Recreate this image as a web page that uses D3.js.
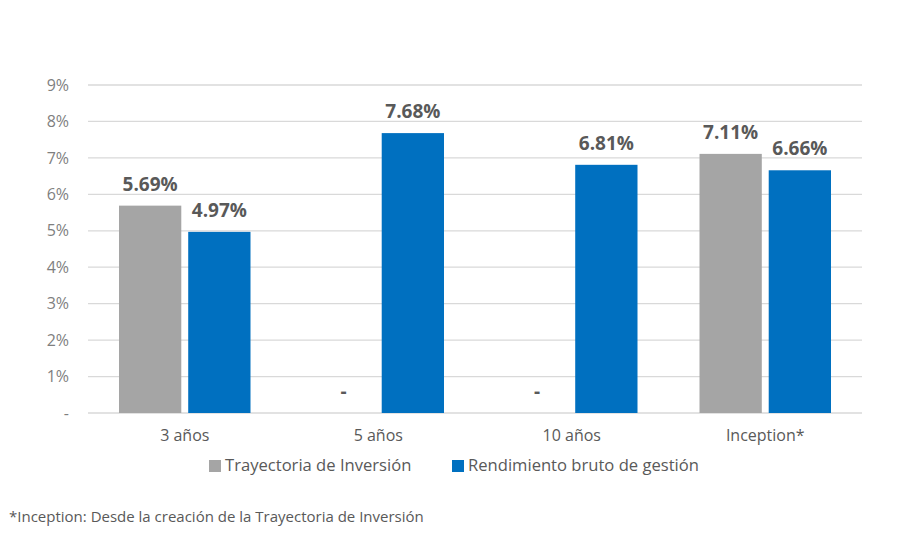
<!DOCTYPE html>
<html>
<head>
<meta charset="utf-8">
<script src="https://cdn.jsdelivr.net/npm/d3@7"></script>
<style>
  body { margin: 0; background: #fff; }
  text { font-family: "Open Sans", "Liberation Sans", sans-serif; }
</style>
</head>
<body>
<div id="chart"></div>
<script>
const categories = ["3 años", "5 años", "10 años", "Inception*"];
const seriesNames = ["Trayectoria de Inversión", "Rendimiento bruto de gestión"];
const trayectoria = [5.69, null, null, 7.11];
const rendimiento = [4.97, 7.68, 6.81, 6.66];
const yTicks = [0, 1, 2, 3, 4, 5, 6, 7, 8, 9];
const colors = ["#A5A5A5", "#0070C0"];
const footnote = "*Inception: Desde la creación de la Trayectoria de Inversión";

const width = 910;
const height = 533;
const margin = { top: 85, right: 48, bottom: 120, left: 88 };

const svg = d3.select("#chart")
  .append("svg")
  .attr("width", width)
  .attr("height", height);

const x = d3.scaleBand()
  .domain(categories)
  .range([margin.left, width - margin.right]);

const x1 = d3.scaleBand()
  .domain([0, 1])
  .range([31, x.bandwidth() - 31])
  .paddingInner(0.1);

const y = d3.scaleLinear()
  .domain([0, 9])
  .range([height - margin.bottom, margin.top]);

// gridlines
svg.append("g")
  .selectAll("line")
  .data(yTicks)
  .join("line")
  .attr("x1", margin.left)
  .attr("x2", width - margin.right)
  .attr("y1", d => y(d))
  .attr("y2", d => y(d))
  .attr("stroke", "#D9D9D9")
  .attr("stroke-width", 1.3);

// y axis labels
const yAxis = svg.append("g")
  .attr("transform", `translate(${margin.left},0)`)
  .call(d3.axisLeft(y).tickValues(yTicks).tickSize(0).tickPadding(19)
    .tickFormat(d => d === 0 ? "-" : d + "%"));
yAxis.select(".domain").remove();
yAxis.selectAll("text")
  .attr("fill", "#7F7F7F")
  .style("font-size", "16px");

// x axis labels
const xAxis = svg.append("g")
  .attr("transform", `translate(0,${y(0)})`)
  .call(d3.axisBottom(x).tickSize(0).tickPadding(17));
xAxis.select(".domain").remove();
xAxis.selectAll("text")
  .attr("fill", "#595959")
  .style("font-size", "16px");

const rows = categories.map((c, i) => ({
  cat: c,
  vals: [trayectoria[i], rendimiento[i]]
}));

const groups = svg.append("g")
  .selectAll("g")
  .data(rows)
  .join("g")
  .attr("transform", d => `translate(${x(d.cat)},0)`);

groups.selectAll("rect")
  .data(d => d.vals.map((v, s) => ({ v, s })).filter(d => d.v !== null))
  .join("rect")
  .attr("x", d => x1(d.s))
  .attr("width", x1.bandwidth())
  .attr("y", d => y(d.v))
  .attr("height", d => y(0) - y(d.v))
  .attr("fill", d => colors[d.s]);

groups.selectAll("text.val")
  .data(d => d.vals.map((v, s) => ({ v, s })))
  .join("text")
  .attr("class", "val")
  .attr("x", d => x1(d.s) + x1.bandwidth() / 2)
  .attr("y", d => y(d.v === null ? 0 : d.v) - 15)
  .attr("text-anchor", "middle")
  .attr("fill", "#595959")
  .style("font-size", "19px")
  .style("font-weight", "bold")
  .text(d => d.v === null ? "-" : d.v.toFixed(2) + "%");

// legend
const legend = svg.append("g").attr("transform", "translate(209,460)");
const legendX = [0, 243];
seriesNames.forEach((name, i) => {
  const item = legend.append("g").attr("transform", `translate(${legendX[i]},0)`);
  item.append("rect")
    .attr("width", 12)
    .attr("height", 12)
    .attr("fill", colors[i]);
  item.append("text")
    .attr("x", 16)
    .attr("y", 11)
    .attr("fill", "#595959")
    .style("font-size", "16.6px")
    .text(name);
});

svg.append("text")
  .attr("x", 9)
  .attr("y", 522)
  .attr("fill", "#595959")
  .style("font-size", "15px")
  .text(footnote);
</script>
</body>
</html>
